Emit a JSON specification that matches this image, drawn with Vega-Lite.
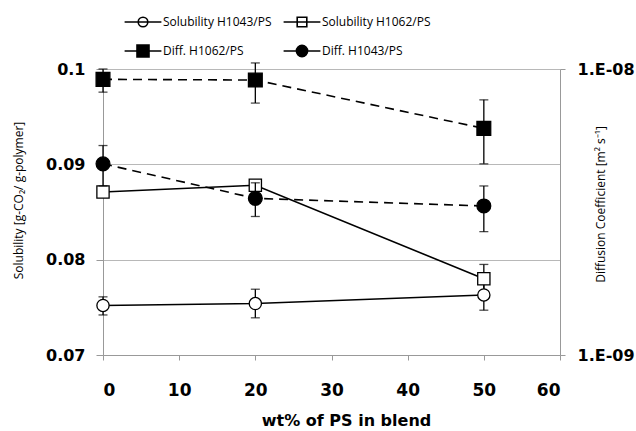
{
  "$schema": "https://vega.github.io/schema/vega-lite/v6.json",
  "width": 457,
  "height": 286,
  "autosize": {"type": "none"},
  "padding": {"left": 103, "top": 69, "right": 76, "bottom": 76},
  "background": "white",
  "config": {
    "view": {"stroke": null},
    "axis": {
      "labelFont": "DejaVu Sans",
      "labelFontWeight": "bold",
      "labelColor": "black",
      "titleFont": "Open Sans",
      "titleFontWeight": "normal",
      "titleFontSize": 12,
      "titleColor": "black",
      "domainColor": "#999999",
      "tickColor": "#999999",
      "gridColor": "#b8b8b8"
    }
  },
  "datasets": {
    "pts": [
      {"series": "Solubility H1043/PS", "group": "sol", "wt": 0, "value": 0.0752, "lo": 0.0742, "hi": 0.0761},
      {"series": "Solubility H1043/PS", "group": "sol", "wt": 20, "value": 0.0754, "lo": 0.0739, "hi": 0.0769},
      {"series": "Solubility H1043/PS", "group": "sol", "wt": 50, "value": 0.0763, "lo": 0.0747, "hi": 0.0781},
      {"series": "Solubility H1062/PS", "group": "sol", "wt": 0, "value": 0.0871, "lo": 0.0868, "hi": 0.0874},
      {"series": "Solubility H1062/PS", "group": "sol", "wt": 20, "value": 0.0878, "lo": 0.0873, "hi": 0.0883},
      {"series": "Solubility H1062/PS", "group": "sol", "wt": 50, "value": 0.0780, "lo": 0.0766, "hi": 0.0795},
      {"series": "Diff. H1062/PS", "group": "diff", "wt": 0, "value": 9.2e-9, "lo": 8.3e-9, "hi": 1.0e-8},
      {"series": "Diff. H1062/PS", "group": "diff", "wt": 20, "value": 9.15e-9, "lo": 7.6e-9, "hi": 1.05e-8},
      {"series": "Diff. H1062/PS", "group": "diff", "wt": 50, "value": 6.2e-9, "lo": 4.66e-9, "hi": 7.8e-9},
      {"series": "Diff. H1043/PS", "group": "diff", "wt": 0, "value": 4.66e-9, "lo": 3.9e-9, "hi": 5.4e-9},
      {"series": "Diff. H1043/PS", "group": "diff", "wt": 20, "value": 3.53e-9, "lo": 3.05e-9, "hi": 4.0e-9},
      {"series": "Diff. H1043/PS", "group": "diff", "wt": 50, "value": 3.32e-9, "lo": 2.7e-9, "hi": 3.9e-9}
    ]
  },
  "data": {"name": "pts"},
  "encoding": {
    "x": {
      "field": "wt",
      "type": "quantitative",
      "scale": {"domain": [0, 60], "nice": false, "zero": false},
      "axis": {
        "title": "wt% of PS in blend",
        "titleFont": "DejaVu Sans",
        "titleFontWeight": "bold",
        "titleFontSize": 16,
        "titleX": 243,
        "titleY": 70,
        "titleBaseline": "alphabetic",
        "titleAlign": "center",
        "values": [0, 10, 20, 30, 40, 50, 60],
        "grid": false,
        "tickSize": 5,
        "labelPadding": 22,
        "labelFontSize": 17
      }
    }
  },
  "layer": [
    {
      "transform": [{"filter": "datum.group === 'sol'"}],
      "encoding": {
        "y": {
          "field": "value",
          "type": "quantitative",
          "scale": {"domain": [0.07, 0.1], "nice": false, "zero": false},
          "axis": {
            "orient": "left",
            "title": "Solubility [g-CO₂/ g-polymer]",
            "titleX": -85,
            "titleY": 131,
            "titleAngle": -90,
            "titleBaseline": "middle",
            "titleAlign": "center",
            "values": [0.07, 0.08, 0.09, 0.1],
            "format": ".2~f",
            "grid": true,
            "tickSize": 7,
            "labelPadding": 11,
            "labelFontSize": 16
          }
        }
      },
      "layer": [
        {
          "mark": {"type": "line", "stroke": "black", "strokeWidth": 1.6},
          "encoding": {"detail": {"field": "series"}}
        },
        {
          "mark": {"type": "rule", "stroke": "black", "strokeWidth": 1.3},
          "encoding": {"y": {"field": "lo", "type": "quantitative"}, "y2": {"field": "hi"}}
        },
        {
          "mark": {"type": "tick", "orient": "horizontal", "color": "black", "size": 9, "thickness": 1.3},
          "encoding": {"y": {"field": "lo", "type": "quantitative"}}
        },
        {
          "mark": {"type": "tick", "orient": "horizontal", "color": "black", "size": 9, "thickness": 1.3},
          "encoding": {"y": {"field": "hi", "type": "quantitative"}}
        },
        {
          "mark": {"type": "point", "filled": true, "stroke": "black", "strokeWidth": 1.3, "opacity": 1, "size": 150},
          "encoding": {
            "shape": {
              "field": "series",
              "type": "nominal",
              "scale": {
                "domain": ["Diff. H1043/PS", "Diff. H1062/PS", "Solubility H1043/PS", "Solubility H1062/PS"],
                "range": ["circle", "square", "circle", "square"]
              },
              "legend": null
            },
            "fill": {
              "field": "series",
              "type": "nominal",
              "scale": {
                "domain": ["Solubility H1043/PS", "Solubility H1062/PS", "Diff. H1062/PS", "Diff. H1043/PS"],
                "range": ["white", "white", "black", "black"]
              },
              "legend": {
                "title": null,
                "orient": "none",
                "direction": "horizontal",
                "legendX": 20,
                "legendY": -53,
                "columns": 2,
                "columnPadding": 8,
                "rowPadding": 11,
                "padding": 0,
                "symbolSize": 64,
                "symbolOffset": 14,
                "labelOffset": 14,
                "symbolStrokeColor": "black",
                "symbolStrokeWidth": 1.6,
                "symbolType": {"expr": "datum.value === 'Solubility H1043/PS' ? 'M-4.6,0H4.6M1.2,0A1.2,1.2 0 1,1 -1.2,0A1.2,1.2 0 1,1 1.2,0' : datum.value === 'Diff. H1043/PS' ? 'M-4.6,0H4.6M1.4,0A1.4,1.4 0 1,1 -1.4,0A1.4,1.4 0 1,1 1.4,0' : datum.value === 'Diff. H1062/PS' ? 'M-4.6,0H4.6M-1.5,-1.5H1.5V1.5H-1.5Z' : 'M-4.6,0H4.6M-1.2,-1.2H1.2V1.2H-1.2Z'"},
                "labelFont": "Open Sans",
                "labelFontSize": 12,
                "labelColor": "black"
              }
            }
          }
        }
      ]
    },
    {
      "transform": [{"filter": "datum.group === 'diff'"}],
      "encoding": {
        "y": {
          "field": "value",
          "type": "quantitative",
          "scale": {"type": "log", "domain": [1e-9, 1e-8], "nice": false, "zero": false},
          "axis": {
            "orient": "right",
            "title": "Diffusion Coefficient [m² s⁻¹]",
            "titleX": 40,
            "titleY": 135,
            "titleAngle": -90,
            "titleBaseline": "middle",
            "titleAlign": "center",
            "values": [1e-9, 1e-8],
            "labelExpr": "datum.value > 5e-9 ? '1.E-08' : '1.E-09'",
            "grid": false,
            "tickSize": 5,
            "labelPadding": 12,
            "labelFontSize": 16
          }
        }
      },
      "layer": [
        {
          "mark": {"type": "line", "stroke": "black", "strokeWidth": 1.6, "strokeDash": [9, 6]},
          "encoding": {"detail": {"field": "series"}}
        },
        {
          "mark": {"type": "rule", "stroke": "black", "strokeWidth": 1.3},
          "encoding": {"y": {"field": "lo", "type": "quantitative"}, "y2": {"field": "hi"}}
        },
        {
          "mark": {"type": "tick", "orient": "horizontal", "color": "black", "size": 9, "thickness": 1.3},
          "encoding": {"y": {"field": "lo", "type": "quantitative"}}
        },
        {
          "mark": {"type": "tick", "orient": "horizontal", "color": "black", "size": 9, "thickness": 1.3},
          "encoding": {"y": {"field": "hi", "type": "quantitative"}}
        },
        {
          "mark": {"type": "point", "filled": true, "stroke": "black", "strokeWidth": 1.3, "opacity": 1, "size": 190},
          "encoding": {
            "shape": {"field": "series", "type": "nominal", "legend": null},
            "fill": {"field": "series", "type": "nominal"}
          }
        }
      ]
    }
  ],
  "resolve": {"scale": {"y": "independent"}}
}
